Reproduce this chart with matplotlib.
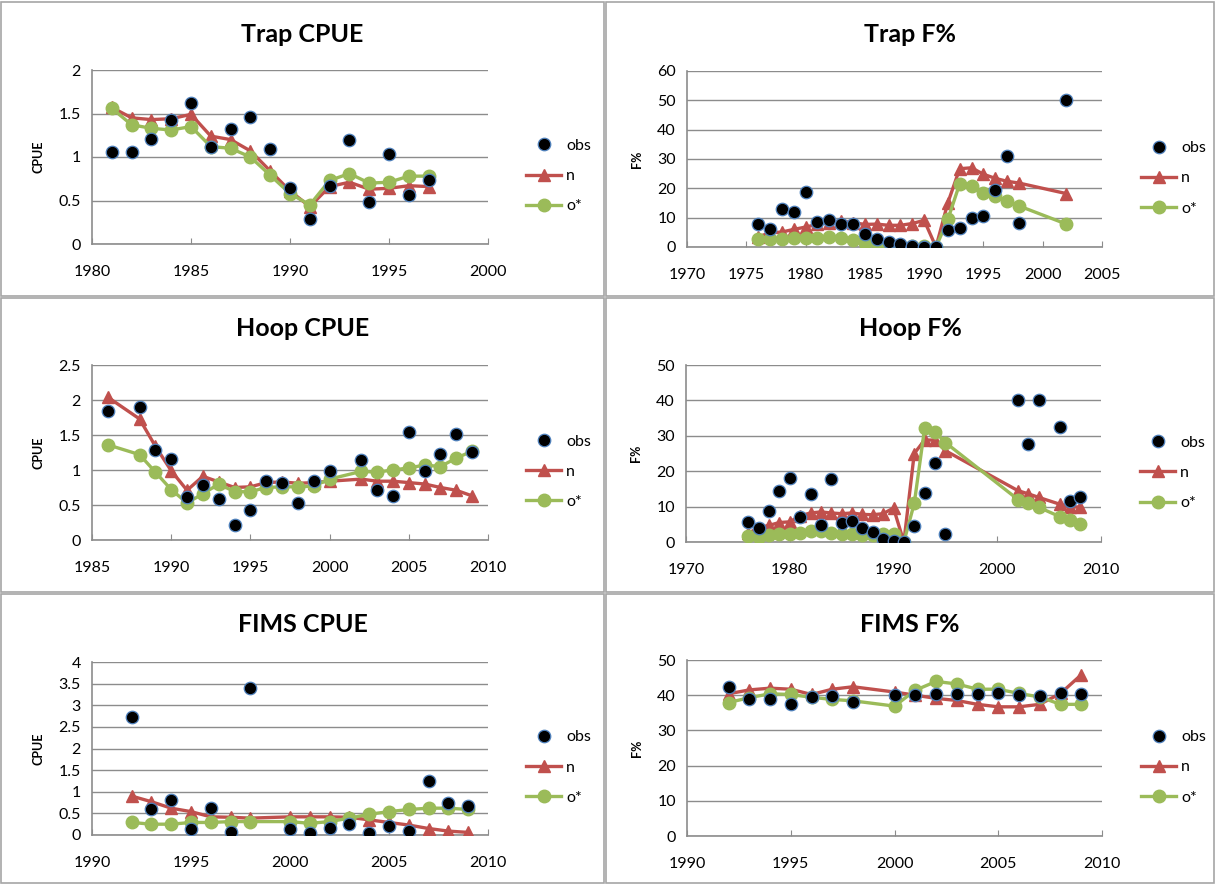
import numpy as np
import matplotlib
matplotlib.use("Agg")
import matplotlib.pyplot as plt
from matplotlib.patches import Rectangle

plt.rcParams['font.family'] = ['Lato', 'DejaVu Sans']

# ---- Trap CPUE ----
trap_cpue_years = list(range(1981, 1998))
trap_cpue_obs = [1.06, 1.06, 1.21, 1.43, 1.62, 1.12, 1.32, 1.46, 1.09, 0.64, 0.29,
                 0.67, 1.20, 0.48, 1.04, 0.56, 0.74]
trap_cpue_n = [1.57, 1.45, 1.43, 1.44, 1.49, 1.24, 1.20, 1.07, 0.84, 0.61, 0.43,
               0.66, 0.71, 0.63, 0.64, 0.67, 0.66]
trap_cpue_o = [1.56, 1.37, 1.33, 1.31, 1.35, 1.12, 1.10, 1.00, 0.79, 0.58, 0.45,
               0.73, 0.81, 0.70, 0.71, 0.78, 0.78]

# ---- Trap F% ----
trap_f_years = list(range(1976, 1999)) + [2002]
trap_f_obs = [8.0, 6.3, 13.0, 12.0, 18.9, 8.5, 9.2, 7.7, 7.8, 4.4, 2.8, 1.8, 1.1, 0.3,
              0.1, 0.0, 5.8, 6.5, 9.9, 10.7, 19.4, 30.9, 8.1, 50.0]
trap_f_n = [3.5, 4.8, 5.1, 6.0, 6.8, 7.7, 8.3, 8.9, 8.3, 7.7, 7.8, 7.4, 7.4, 8.0,
            9.1, 0.0, 15.1, 26.7, 27.0, 24.8, 23.4, 22.4, 21.8, 18.2]
trap_f_o = [2.7, 2.7, 2.8, 3.0, 3.0, 3.2, 3.3, 3.2, 2.3, 1.4, 1.5, 0.9, 0.6, 0.4,
            0.3, 0.0, 9.4, 21.6, 20.8, 18.5, 17.4, 15.6, 14.0, 7.8]

# ---- Hoop CPUE ----
hoop_cpue_years = [1986] + list(range(1988, 2001)) + list(range(2002, 2010))
hoop_cpue_obs = [1.85, 1.90, 1.28, 1.16, 0.61, 0.78, 0.59, 0.21, 0.43, 0.85, 0.81,
                 0.53, 0.84, 0.99, 1.15, 0.72, 0.63, 1.55, 0.99, 1.23, 1.51, 1.26]
hoop_cpue_n = [2.04, 1.73, 1.34, 0.99, 0.71, 0.91, 0.83, 0.75, 0.76, 0.82, 0.83,
               0.81, 0.82, 0.84, 0.87, 0.84, 0.84, 0.82, 0.80, 0.75, 0.71, 0.63]
hoop_cpue_o = [1.36, 1.22, 0.97, 0.72, 0.53, 0.66, 0.80, 0.69, 0.69, 0.75, 0.76,
               0.76, 0.77, 0.87, 0.98, 0.97, 1.00, 1.03, 1.07, 1.05, 1.17, 1.27]

# ---- Hoop F% ----
hoop_f_years = list(range(1976, 1996)) + [2002, 2003, 2004, 2006, 2007, 2008]
hoop_f_obs = [5.7, 4.0, 8.7, 14.5, 18.1, 7.1, 13.5, 4.9, 17.7, 5.3, 6.0, 4.0, 2.8,
              0.8, 0.2, 0.0, 4.5, 13.9, 22.2, 2.2, 40.1, 27.8, 40.0, 32.4, 11.7, 12.6]
hoop_f_n = [2.5, 4.0, 4.7, 5.5, 5.7, 7.4, 8.2, 8.5, 8.2, 8.0, 8.2, 7.8, 7.7, 8.0,
            9.6, 0.0, 25.0, 28.8, 28.8, 25.8, 14.5, 13.6, 12.6, 10.7, 9.9, 9.9]
hoop_f_o = [1.8, 1.5, 1.9, 2.4, 2.4, 2.6, 3.0, 3.0, 2.6, 2.2, 2.2, 1.9, 1.9, 2.2,
            2.4, 0.0, 10.9, 32.1, 31.2, 28.1, 12.0, 10.9, 9.8, 7.2, 6.2, 5.0]

# ---- FIMS CPUE ----
fims_cpue_years = list(range(1992, 1999)) + list(range(2000, 2010))
fims_cpue_obs = [2.73, 0.60, 0.80, 0.15, 0.63, 0.08, 3.41, 0.15, 0.04, 0.17, 0.25,
                 0.04, 0.21, 0.09, 1.26, 0.73, 0.68]
fims_cpue_n = [0.90, 0.77, 0.62, 0.54, 0.42, 0.41, 0.39, 0.42, 0.42, 0.42, 0.41,
               0.35, 0.29, 0.23, 0.15, 0.09, 0.06]
fims_cpue_o = [0.29, 0.25, 0.25, 0.29, 0.29, 0.31, 0.31, 0.31, 0.27, 0.31, 0.39,
               0.48, 0.54, 0.59, 0.62, 0.62, 0.59]

# ---- FIMS F% ----
fims_f_years = list(range(1992, 1999)) + list(range(2000, 2010))
fims_f_obs = [42.4, 38.8, 38.8, 37.4, 39.6, 39.8, 38.2, 40.0, 40.1, 40.3, 40.4,
              40.4, 40.5, 40.0, 39.7, 40.5, 40.2]
fims_f_n = [40.4, 41.5, 42.0, 41.7, 40.2, 41.7, 42.4, 40.9, 40.0, 39.1, 38.5,
            37.4, 36.7, 36.7, 37.4, 40.5, 45.8]
fims_f_o = [37.9, 39.3, 40.4, 40.2, 39.4, 38.8, 38.4, 36.9, 41.4, 43.9, 43.2,
            41.7, 41.7, 40.5, 39.5, 37.4, 37.4]

panels = [
    ("Trap CPUE", "CPUE", trap_cpue_years, trap_cpue_obs, trap_cpue_n, trap_cpue_o,
     (1980, 2000, 5), (0, 2, 0.5)),
    ("Trap F%", "F%", trap_f_years, trap_f_obs, trap_f_n, trap_f_o,
     (1970, 2005, 5), (0, 60, 10)),
    ("Hoop CPUE", "CPUE", hoop_cpue_years, hoop_cpue_obs, hoop_cpue_n, hoop_cpue_o,
     (1985, 2010, 5), (0, 2.5, 0.5)),
    ("Hoop F%", "F%", hoop_f_years, hoop_f_obs, hoop_f_n, hoop_f_o,
     (1970, 2010, 10), (0, 50, 10)),
    ("FIMS CPUE", "CPUE", fims_cpue_years, fims_cpue_obs, fims_cpue_n, fims_cpue_o,
     (1990, 2010, 5), (0, 4, 0.5)),
    ("FIMS F%", "F%", fims_f_years, fims_f_obs, fims_f_n, fims_f_o,
     (1990, 2010, 5), (0, 50, 10)),
]

W, H = 1217, 885
fig = plt.figure(figsize=(W / 100, H / 100), dpi=100)

# axes boxes in pixels: left, top, right, bottom
boxes = [(92, 70, 488, 244), (687, 71, 1102, 247),
         (92, 365, 488, 540), (686, 365, 1101, 542),
         (92, 662, 488, 835), (687, 660, 1102, 836)]
# panel frames
frames = [(1, 2, 604, 296), (606, 2, 1214, 296),
          (1, 298, 604, 592), (606, 298, 1214, 592),
          (1, 594, 604, 883), (606, 594, 1214, 883)]
title_y = [35, 328, 625]

red = '#C0504D'
green = '#9BBB59'

for i, (title, ylab, yrs, obs, n, o, xr, yr) in enumerate(panels):
    fl, ft, fr, fb = frames[i]
    fig.patches.append(Rectangle((fl / W, 1 - fb / H), (fr - fl) / W, (fb - ft) / H,
                                 transform=fig.transFigure, fill=False,
                                 edgecolor='#A6A6A6', linewidth=1.2))
    fig.text((fl + fr) / 2 / W, 1 - title_y[i // 2] / H, title, ha='center', va='center',
             fontsize=18, fontweight='bold')

    l, t, r, b = boxes[i]
    ax = fig.add_axes([l / W, 1 - b / H, (r - l) / W, (b - t) / H])
    ax.plot(yrs, n, color=red, lw=2.4, marker='^', ms=9, label='n', zorder=3)
    ax.plot(yrs, o, color=green, lw=2.4, marker='o', ms=9, label='o*', zorder=4)
    ax.plot(yrs, obs, ls='none', marker='o', ms=9, color='black',
            markeredgecolor='#4F81BD', markeredgewidth=0.9, label='obs', zorder=5)

    ax.set_xlim(xr[0], xr[1])
    ax.set_xticks(np.arange(xr[0], xr[1] + 0.1, xr[2]))
    ax.set_ylim(yr[0], yr[1])
    yt = np.arange(yr[0], yr[1] + 1e-9, yr[2])
    ax.set_yticks(yt)
    ax.set_yticklabels(['%g' % v for v in yt])
    ax.yaxis.grid(True, color='#8C8C8C', lw=1)
    ax.set_axisbelow(True)
    for s in ['top', 'right']:
        ax.spines[s].set_visible(False)
    for s in ['left', 'bottom']:
        ax.spines[s].set_color('#8C8C8C')
        ax.spines[s].set_linewidth(1.2)
    ax.tick_params(axis='x', direction='in', length=4, color='#8C8C8C',
                   labelsize=11.5, pad=15)
    ax.tick_params(axis='y', length=0, labelsize=11.5, pad=8)
    ax.set_ylabel(ylab, fontsize=9, fontweight='bold', labelpad=10)

    h, lab = ax.get_legend_handles_labels()
    order = [2, 0, 1]
    ax.legend([h[k] for k in order], [lab[k] for k in order], frameon=False,
              loc='center left', bbox_to_anchor=(1.06, 0.39), fontsize=11.5,
              handlelength=2.2, handletextpad=0.3, labelspacing=1.0)

fig.savefig('out.png', dpi=100)
